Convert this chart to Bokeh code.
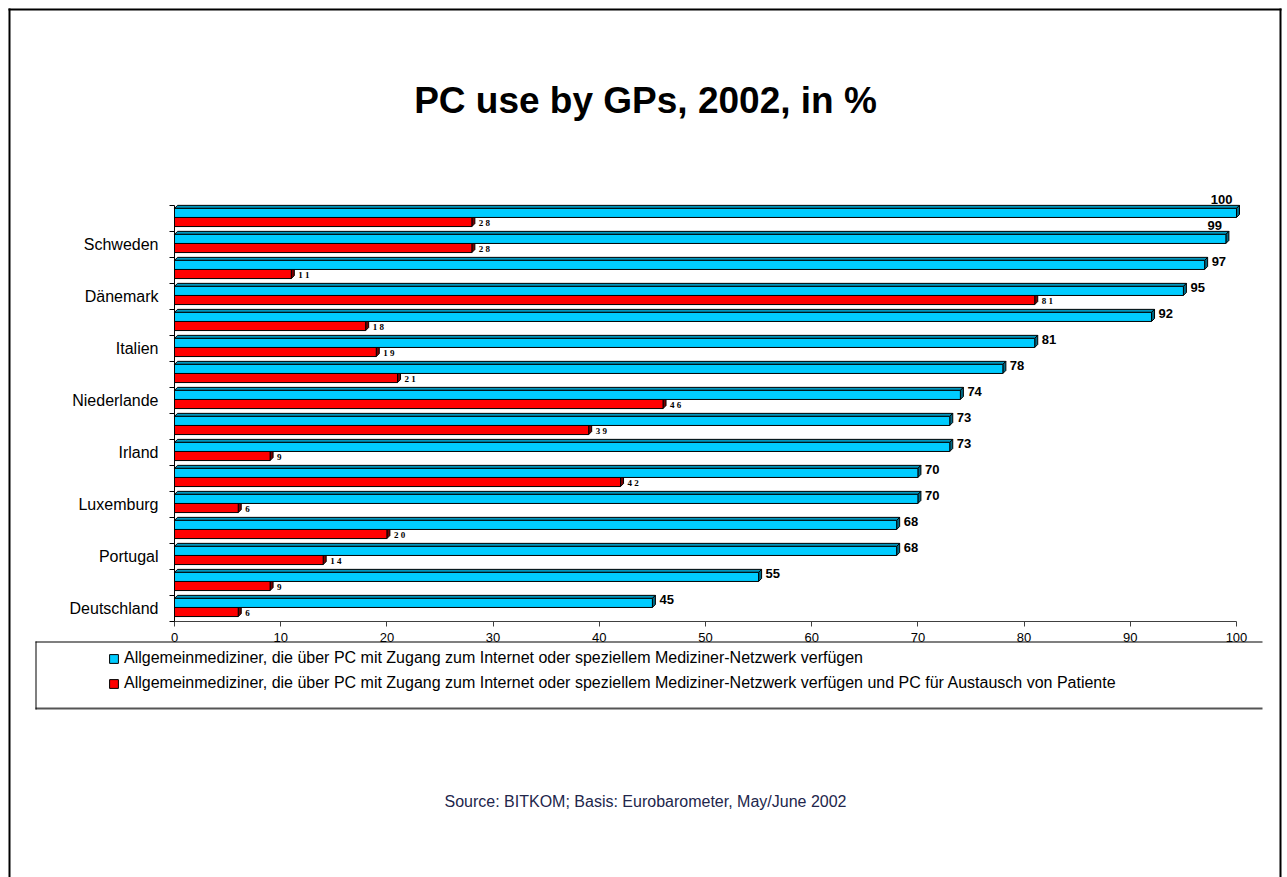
from bokeh.plotting import figure
from bokeh.models import (ColumnDataSource, Range1d, FixedTicker, Label,
                          BoxAnnotation, Legend, LegendItem)
from bokeh.core.properties import value
from bokeh.embed import file_html
from bokeh.resources import INLINE

# ---- data -------------------------------------------------------------
categories = ["", "Schweden", "", "Dänemark", "", "Italien", "", "Niederlande",
              "", "Irland", "", "Luxemburg", "", "Portugal", "", "Deutschland"]
pc_network = [100, 99, 97, 95, 92, 81, 78, 74, 73, 73, 70, 70, 68, 68, 55, 45]
pc_patient_data = [28, 28, 11, 81, 18, 19, 21, 46, 39, 9, 42, 6, 20, 14, 9, 6]
series_names = [
    "Allgemeinmediziner, die über PC mit Zugang zum Internet oder speziellem "
    "Mediziner-Netzwerk verfügen",
    "Allgemeinmediziner, die über PC mit Zugang zum Internet oder speziellem "
    "Mediziner-Netzwerk verfügen und PC für Austausch von Patiente",
]
x_ticks = list(range(0, 101, 10))
title_text = "PC use by GPs, 2002, in %"
source_text = "Source: BITKOM; Basis: Eurobarometer, May/June 2002"

# ---- page geometry ----------------------------------------------------
# The frame fills the whole canvas; the bar area (0..100 x 16 rows) sits
# inside it and both axes are pinned to its edges with fixed_location.
W, H = 1287, 877
A_LEFT, A_RIGHT, A_TOP, A_BOTTOM = 174, 1236, 205, 621
n = len(categories)
KX = (A_RIGHT - A_LEFT) / 100.0      # px per percent
KY = (A_BOTTOM - A_TOP) / n          # px per row
FONT = "Liberation Sans"

p = figure(width=W, height=H, title=None,
           x_range=Range1d(-A_LEFT / KX, (W - A_LEFT) / KX),
           y_range=Range1d((H - A_TOP) / KY, -A_TOP / KY),
           output_backend="svg", toolbar_location=None,
           min_border=0, min_border_left=0, min_border_right=0,
           min_border_top=0, min_border_bottom=0)
p.xgrid.visible = False
p.ygrid.visible = False
p.outline_line_color = None
p.background_fill_color = "white"
p.border_fill_color = "white"

# 3-D depth of the bars, converted from pixels to data units
DX = 3 / KX
DY = 3 / KY

BLUE_TOP, BLUE_BOT = 0.11, 0.46
RED_TOP, RED_BOT = 0.46, 0.81


def bar_shapes(vals, top_off, bot_off):
    tops = [g + top_off for g in range(len(vals))]
    bots = [g + bot_off for g in range(len(vals))]
    side_x, side_y, cap_x, cap_y = [], [], [], []
    for v, t, b in zip(vals, tops, bots):
        side_x.append([v, v + DX, v + DX, v])
        side_y.append([b, b - DY, t - DY, t])
        cap_x.append([0, DX, v + DX, v])
        cap_y.append([t, t - DY, t - DY, t])
    return tops, bots, side_x, side_y, cap_x, cap_y


def draw_series(vals, top_off, bot_off, front, cap, side):
    tops, bots, sx_, sy_, cx, cy = bar_shapes(vals, top_off, bot_off)
    p.patches(cx, cy, fill_color=cap, line_color="black", line_width=1)
    p.patches(sx_, sy_, fill_color=side, line_color="black", line_width=1)
    src = ColumnDataSource(dict(left=[0] * len(vals), right=vals,
                                top=tops, bottom=bots))
    return p.quad(left="left", right="right", top="top", bottom="bottom",
                  source=src, fill_color=front, line_color="black",
                  line_width=1)


r_red = draw_series(pc_patient_data, RED_TOP, RED_BOT,
                    "#FF0000", "#B00000", "#7A0000")
r_blue = draw_series(pc_network, BLUE_TOP, BLUE_BOT,
                     "#00CCFF", "#0098C0", "#006A86")

# ---- value labels -------------------------------------------------------
blue_y, blue_x_off, blue_y_off, blue_align = [], [], [], []
for g, v in enumerate(pc_network):
    blue_y.append(g + (BLUE_TOP + BLUE_BOT) / 2)
    if v >= 98:  # no room right of the bar: sit above its end
        blue_x_off.append(-4)
        blue_y_off.append(-13)
        blue_align.append("right")
    else:
        blue_x_off.append(7)
        blue_y_off.append(-3)
        blue_align.append("left")
p.text(x="x", y="y", text="t", x_offset="xo", y_offset="yo",
       text_align="al",
       source=ColumnDataSource(dict(x=pc_network, y=blue_y,
                                    t=[str(v) for v in pc_network],
                                    xo=blue_x_off, yo=blue_y_off,
                                    al=blue_align)),
       text_baseline="middle", text_font=value(FONT), text_font_style="bold",
       text_font_size="13px", text_color="black")

red_y = [g + (RED_TOP + RED_BOT) / 2 for g in range(n)]
p.text(x=pc_patient_data, y=red_y,
       text=[" ".join(str(v)) for v in pc_patient_data],
       x_offset=7, y_offset=1, text_align="left", text_baseline="middle",
       text_font=value("Liberation Serif"), text_font_style="bold",
       text_font_size="9px", text_color="black")

# ---- axes ---------------------------------------------------------------
yax = p.yaxis[0]
yax.fixed_location = 0
yax.bounds = (0, n)
yax.ticker = FixedTicker(ticks=[g + 0.5 for g in range(n)],
                         minor_ticks=list(range(n + 1)))
yax.major_label_overrides = {g + 0.5: c for g, c in enumerate(categories)}
yax.major_tick_line_color = None
yax.major_tick_in = 0
yax.major_tick_out = 0
yax.minor_tick_in = 0
yax.minor_tick_out = 5
yax.minor_tick_line_color = "black"
yax.axis_line_color = "black"
yax.major_label_standoff = 11
yax.major_label_text_font = FONT
yax.major_label_text_font_size = "16px"
yax.major_label_text_color = "black"

xax = p.xaxis[0]
xax.fixed_location = n
xax.bounds = (0, 100)
xax.ticker = FixedTicker(ticks=x_ticks)
xax.minor_tick_line_color = None
xax.major_tick_in = 0
xax.major_tick_out = 5
xax.major_tick_line_color = "#404040"
xax.axis_line_color = "#404040"
xax.major_label_standoff = 6
xax.major_label_text_font = FONT
xax.major_label_text_font_size = "13px"
xax.major_label_text_color = "black"


# ---- page furniture (screen units, origin at the bottom-left) ---------------
def sy(py):
    return H - py


legend = Legend(items=[LegendItem(label=series_names[0], renderers=[r_blue]),
                       LegendItem(label=series_names[1], renderers=[r_red])],
                location=(108, sy(692.5)),
                orientation="vertical", padding=0, margin=0, spacing=6,
                glyph_width=11, glyph_height=11, label_height=19,
                label_standoff=5, border_line_color=None,
                background_fill_alpha=0,
                label_text_font=FONT, label_text_font_size="16px",
                label_text_color="black")
p.add_layout(legend, "center")


def bar_line(x0, x1, y0, y1, color="black"):
    p.add_layout(BoxAnnotation(left=x0, right=x1, top=sy(y0), bottom=sy(y1),
                               left_units="screen", right_units="screen",
                               top_units="screen", bottom_units="screen",
                               fill_color=color, fill_alpha=1,
                               line_color=None, level="overlay"))


# legend frame (open on the right)
bar_line(35, 1262, 641, 642)
bar_line(35, 1262, 707, 709, "#555555")
bar_line(35, 36, 641, 709)

# outer chart border
bar_line(8, 1281, 8, 10)
bar_line(8, 10, 8, 880)
bar_line(1279, 1281, 8, 880)

p.add_layout(Label(x=645, y=sy(100), x_units="screen", y_units="screen",
                   text=title_text, text_align="center",
                   text_baseline="middle", text_font=FONT,
                   text_font_style="bold", text_font_size="37px",
                   text_color="black"))
p.add_layout(Label(x=645, y=sy(801), x_units="screen", y_units="screen",
                   text=source_text, text_align="center",
                   text_baseline="middle", text_font=FONT,
                   text_font_size="16px", text_color="#22264B"))

open("out.html", "w").write(file_html(p, INLINE))
